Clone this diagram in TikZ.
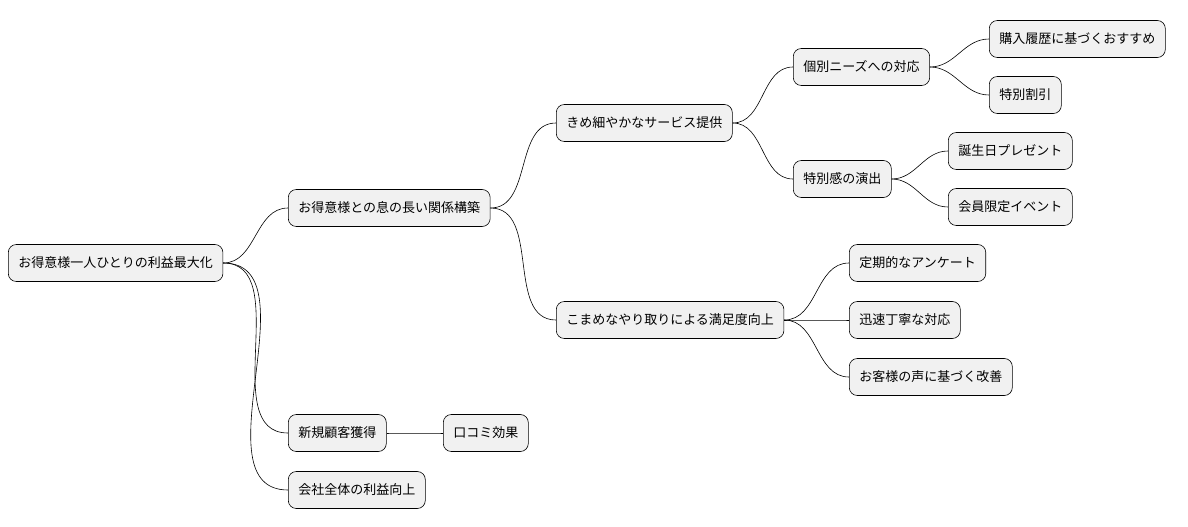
\documentclass[tikz,border=0pt]{standalone}
\usepackage{fontspec}
\setmainfont{Noto Sans CJK JP}
\begin{document}
\begin{tikzpicture}[x=1pt,y=-1pt,
    topic/.style={draw,rounded corners=8pt,fill={rgb,255:red,241;green,241;blue,241},
      anchor=west,minimum height=37pt,inner xsep=10pt,font=\fontsize{13pt}{15pt}\selectfont,line width=0.6pt},
    link/.style={draw,line width=0.6pt,out=0,in=180}]
    \useasboundingbox (0,0) rectangle (1188,527);
        \node[topic] (root) at (8,263){お得意様一人ひとりの利益最大化};
        \node[topic] (rel) at (288,208){お得意様との息の長い関係構築};
        \node[topic] (svc) at (556,123){きめ細やかなサービス提供};
        \node[topic] (need) at (793,67){個別ニーズへの対応};
        \node[topic] (rec) at (989,39){購入履歴に基づくおすすめ};
        \node[topic] (disc) at (989,95){特別割引};
        \node[topic] (spec) at (793,179){特別感の演出};
        \node[topic] (bday) at (948,151){誕生日プレゼント};
        \node[topic] (event) at (948,207){会員限定イベント};
        \node[topic] (comm) at (556,320){こまめなやり取りによる満足度向上};
        \node[topic] (survey) at (849,263){定期的なアンケート};
        \node[topic] (quick) at (849,320){迅速丁寧な対応};
        \node[topic] (voice) at (849,377){お客様の声に基づく改善};
        \node[topic] (new) at (288,433){新規顧客獲得};
        \node[topic] (word) at (443,433){口コミ効果};
        \node[topic] (total) at (288,490){会社全体の利益向上};

        \path [link] (root.east) to (rel.west);
        \path [link] (root.east) to (new.west);
        \path [link] (root.east) to (total.west);
        \path [link] (rel.east) to (svc.west);
        \path [link] (rel.east) to (comm.west);
        \path [link] (svc.east) to (need.west);
        \path [link] (svc.east) to (spec.west);
        \path [link] (need.east) to (rec.west);
        \path [link] (need.east) to (disc.west);
        \path [link] (spec.east) to (bday.west);
        \path [link] (spec.east) to (event.west);
        \path [link] (comm.east) to (survey.west);
        \path [link] (comm.east) to (quick.west);
        \path [link] (comm.east) to (voice.west);
        \path [link] (new.east) to (word.west);
    \end{tikzpicture}
\end{document}
